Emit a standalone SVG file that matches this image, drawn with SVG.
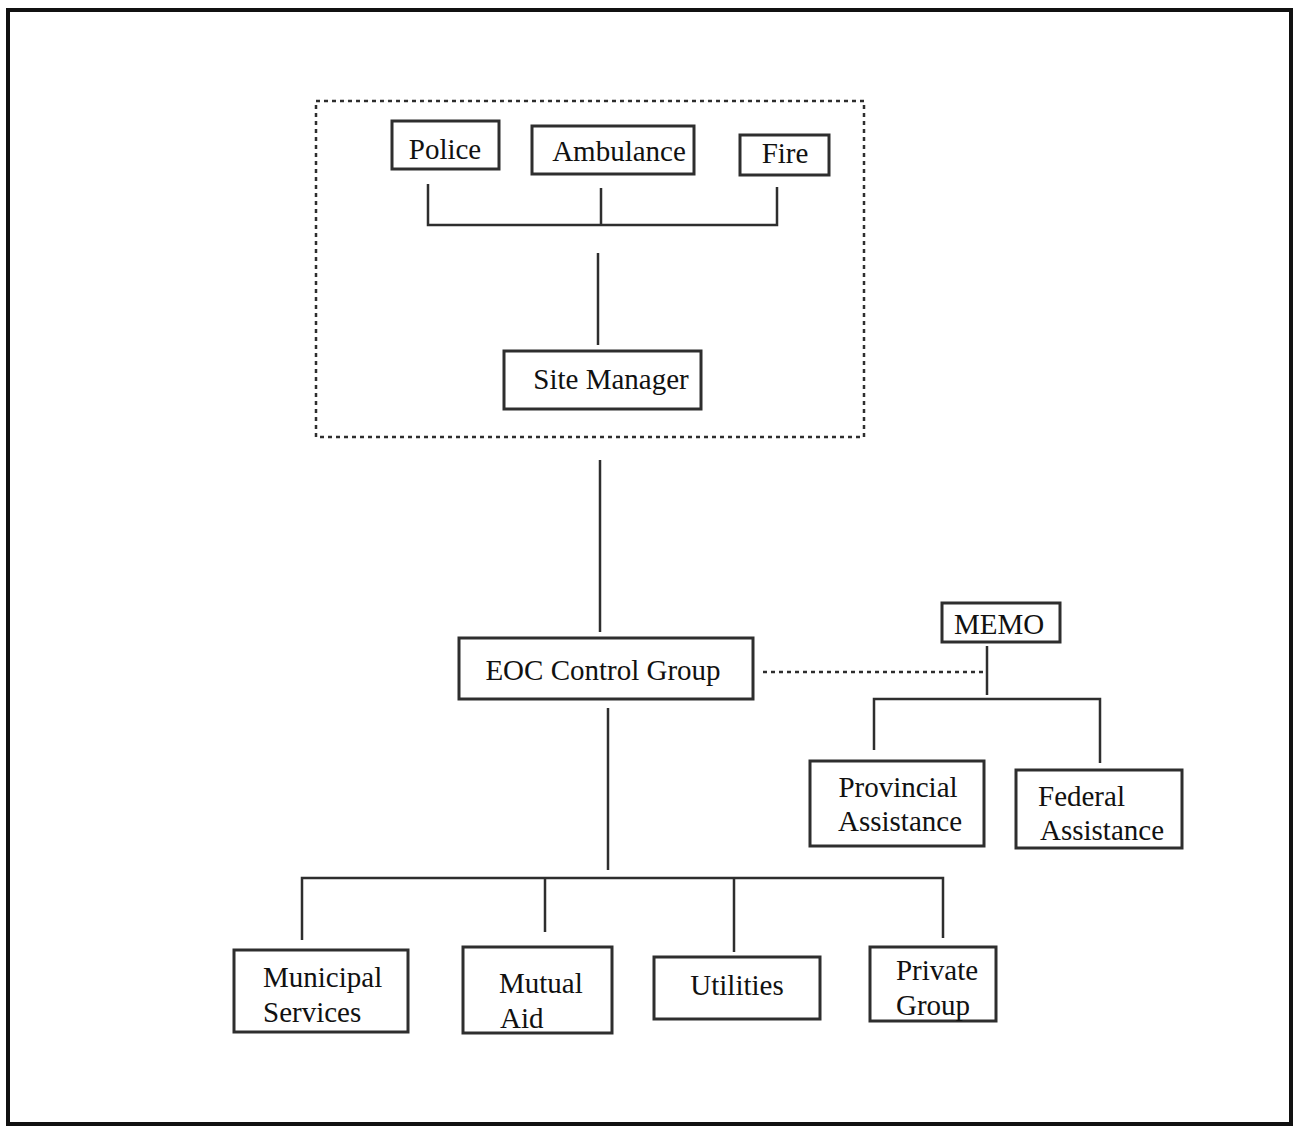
<svg xmlns="http://www.w3.org/2000/svg" width="1294" height="1127" viewBox="0 0 1294 1127">
  <style>
    .box { fill: #ffffff; stroke: #2e2e2e; stroke-width: 3; }
    .lbl { font-family: "Liberation Serif", "Times New Roman", serif; font-size: 29px; fill: #111111; }
    .wire { fill: none; stroke: #2e2e2e; stroke-width: 2.5; }
    .dash { fill: none; stroke: #2e2e2e; stroke-width: 2.5; stroke-dasharray: 4 4; }
  </style>
  <rect width="1294" height="1127" fill="#ffffff"/>
  <!-- page frame -->
  <rect x="8" y="10" width="1283" height="1114" fill="none" stroke="#111111" stroke-width="4"/>

  <!-- site area enclosure -->
  <rect id="site-area" x="316" y="101" width="548" height="336" class="dash"/>

  <!-- connectors -->
  <g id="connectors">
    <path class="wire" d="M428 184 V225 H777 V187 M601 188 V225"/>
    <path class="wire" d="M598 253 V345"/>
    <path class="wire" d="M600 460 V632"/>
    <path class="dash" d="M763 672 H985"/>
    <path class="wire" d="M987 646 V695"/>
    <path class="wire" d="M874 750 V699 H1100 V763"/>
    <path class="wire" d="M608 708 V870"/>
    <path class="wire" d="M302 940 V878 H943 V938 M545 878 V932 M734 878 V952"/>
  </g>

  <g id="police">
    <rect class="box" x="392" y="121" width="107" height="48"/>
    <text class="lbl" x="445" y="159" text-anchor="middle">Police</text>
  </g>
  <g id="ambulance">
    <rect class="box" x="532" y="126" width="162" height="48"/>
    <text class="lbl" x="619" y="161" text-anchor="middle">Ambulance</text>
  </g>
  <g id="fire">
    <rect class="box" x="740" y="135" width="89" height="40"/>
    <text class="lbl" x="785" y="163" text-anchor="middle">Fire</text>
  </g>
  <g id="site-manager">
    <rect class="box" x="504" y="351" width="197" height="58"/>
    <text class="lbl" x="611" y="389" text-anchor="middle">Site Manager</text>
  </g>
  <g id="eoc-control-group">
    <rect class="box" x="459" y="638" width="294" height="61"/>
    <text class="lbl" x="603" y="680" text-anchor="middle">EOC Control Group</text>
  </g>
  <g id="memo">
    <rect class="box" x="942" y="603" width="118" height="39"/>
    <text class="lbl" x="999" y="634" text-anchor="middle">MEMO</text>
  </g>
  <g id="provincial-assistance">
    <rect class="box" x="810" y="761" width="174" height="85"/>
    <text class="lbl" x="898" y="797" text-anchor="middle">Provincial</text>
    <text class="lbl" x="900" y="831" text-anchor="middle">Assistance</text>
  </g>
  <g id="federal-assistance">
    <rect class="box" x="1016" y="770" width="166" height="78"/>
    <text class="lbl" x="1038" y="806">Federal</text>
    <text class="lbl" x="1040" y="840">Assistance</text>
  </g>
  <g id="municipal-services">
    <rect class="box" x="234" y="950" width="174" height="82"/>
    <text class="lbl" x="263" y="987">Municipal</text>
    <text class="lbl" x="263" y="1022">Services</text>
  </g>
  <g id="mutual-aid">
    <rect class="box" x="463" y="947" width="149" height="86"/>
    <text class="lbl" x="499" y="993">Mutual</text>
    <text class="lbl" x="500" y="1028">Aid</text>
  </g>
  <g id="utilities">
    <rect class="box" x="654" y="957" width="166" height="62"/>
    <text class="lbl" x="737" y="995" text-anchor="middle">Utilities</text>
  </g>
  <g id="private-group">
    <rect class="box" x="870" y="947" width="126" height="74"/>
    <text class="lbl" x="937" y="980" text-anchor="middle">Private</text>
    <text class="lbl" x="933" y="1015" text-anchor="middle">Group</text>
  </g>
</svg>
